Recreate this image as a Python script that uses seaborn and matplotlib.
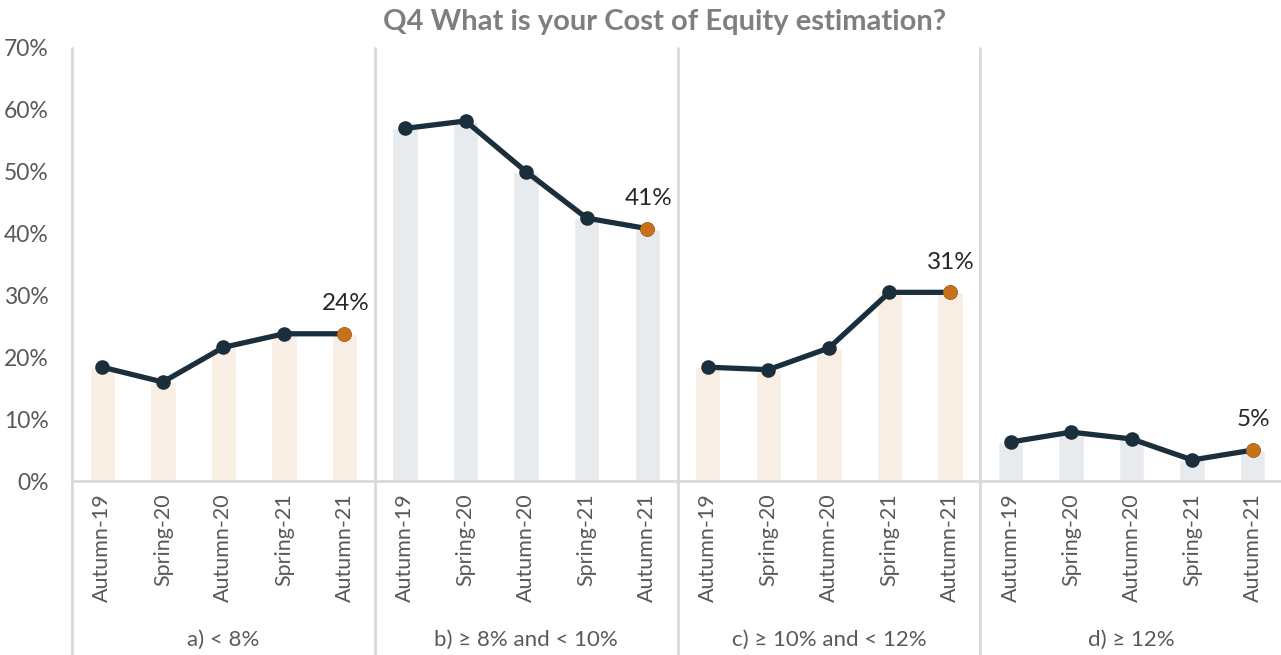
import matplotlib
matplotlib.use("Agg")
import matplotlib.pyplot as plt
import seaborn as sns
import pandas as pd
import numpy as np

# ---- data ----
groups = ["a) < 8%", "b) \u2265 8% and < 10%", "c) \u2265 10% and < 12%", "d) \u2265 12%"]
periods = ["Autumn-19", "Spring-20", "Autumn-20", "Spring-21", "Autumn-21"]
vals_a = [18.4, 16.0, 21.6, 23.8, 23.8]
vals_b = [57.0, 58.2, 50.0, 42.5, 40.8]
vals_c = [18.4, 18.0, 21.5, 30.5, 30.5]
vals_d = [6.3, 7.9, 6.8, 3.4, 5.0]
last_labels = ["24%", "41%", "31%", "5%"]

title = "Q4 What is your Cost of Equity estimation?"

bar_colors = ["#f9eee4", "#e8ebee", "#f9eee4", "#e8ebee"]
line_color = "#1b2e3c"
orange = "#c8711b"
grey_text = "#595959"
sep_color = "#d9d9d9"

all_vals = [vals_a, vals_b, vals_c, vals_d]
rows = []
for gi, (g, vs) in enumerate(zip(groups, all_vals)):
    for pi, (p, v) in enumerate(zip(periods, vs)):
        rows.append({"key": f"{gi}_{p}", "group": g, "period": p, "value": v / 100.0,
                     "pos": gi * len(periods) + pi, "gi": gi})
df = pd.DataFrame(rows)

sns.set_theme(style="white")
plt.rcParams["font.family"] = ["Lato", "DejaVu Sans"]

W, H = 1281, 655
fig = plt.figure(figsize=(W / 100, H / 100), dpi=100)
x0, x1 = 72, 1283
y_top, y_bot = 48, 481
ax = fig.add_axes([x0 / W, 1 - y_bot / H, (x1 - x0) / W, (y_bot - y_top) / H])

palette = {row.key: bar_colors[row.gi] for row in df.itertuples()}
sns.barplot(data=df, x="key", y="value", hue="key", palette=palette, order=list(df["key"]),
            width=0.42, legend=False, ax=ax, saturation=1)

for gi, g in enumerate(groups):
    sub = df[df["gi"] == gi]
    sns.lineplot(data=sub, x="pos", y="value", color=line_color, lw=3.8, ax=ax,
                 marker="o", markersize=10.5, markeredgewidth=0, zorder=3)
    last = sub.iloc[-1]
    ax.plot([last["pos"]], [last["value"]], "o", color=orange, markersize=10.5,
            markeredgewidth=0, zorder=4)
    ax.text(last["pos"] + 0.02, last["value"] + 0.032, last_labels[gi], ha="center",
            va="bottom", fontsize=17.5, color="#262626")

n = len(df)
ax.set_xlim(-0.5, n - 0.5)
ax.set_ylim(0, 0.70)
ax.set_yticks(np.arange(0, 0.71, 0.1))
ax.set_yticklabels([f"{int(round(t*100))}%" for t in np.arange(0, 0.71, 0.1)],
                   fontsize=16.5, color=grey_text)
ax.set_xticks(range(n))
ax.set_xticklabels(list(df["period"]), rotation=90, fontsize=15.5, color=grey_text)
ax.tick_params(axis="x", length=0, pad=9)
ax.tick_params(axis="y", length=0, pad=17)
ax.set_xlabel("")
ax.set_ylabel("")
for s in ["top", "right", "left"]:
    ax.spines[s].set_visible(False)
ax.spines["bottom"].set_color(sep_color)
ax.spines["bottom"].set_linewidth(2)

ext = -(H - y_bot) / (y_bot - y_top)
for gi in range(len(groups)):
    xb = gi * len(periods) - 0.5
    ax.axvline(xb, ymin=ext, ymax=1.0, color=sep_color, lw=2, clip_on=False, zorder=0)
    ax.text(gi * len(periods) + (len(periods) - 1) / 2, ext + 0.035, groups[gi],
            transform=ax.get_xaxis_transform(), ha="center", va="center",
            fontsize=16, color=grey_text)

fig.text(665 / W, 1 - 22 / H, title, ha="center", va="center", fontsize=21,
         fontweight="bold", color="#7f7f7f")

fig.savefig("out.png", dpi=100)
